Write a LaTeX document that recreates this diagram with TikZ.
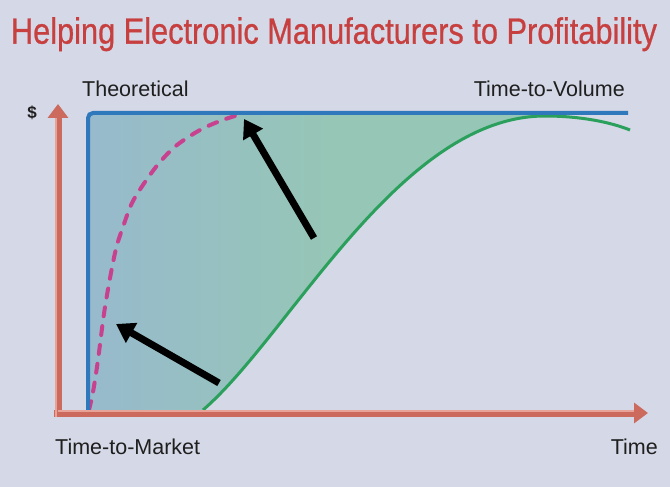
\documentclass[tikz,border=0pt]{standalone}
\usepackage{fontspec}
\setmainfont{Liberation Sans}
\newfontfamily\titlefont[FakeBold=0.8]{Liberation Sans}
\usetikzlibrary{arrows.meta}
\definecolor{bg}{HTML}{D5D8E6}
\definecolor{titlered}{HTML}{C7403F}
\definecolor{axisred}{HTML}{CC6A5E}
\definecolor{axislight}{HTML}{E8A398}
\definecolor{lineblue}{HTML}{2F78BC}
\definecolor{fillblue}{HTML}{97B7D2}
\definecolor{fillteal}{HTML}{96C6B6}
\definecolor{curvegreen}{HTML}{2BA05C}
\definecolor{dashpink}{HTML}{C8418E}
\begin{document}
\begin{tikzpicture}[x=1pt,y=-1pt,
  lbl/.style={font=\fontsize{21.5}{24}\selectfont, text=black!88, inner sep=0pt},
  axisline/.style={line width=7pt, draw=axisred, -{Triangle[width=20pt,length=14pt]}},
  axishi/.style={line width=1.6pt, draw=axislight},
  bigarrow/.style={line width=7pt, draw=black, -{Triangle[width=22pt,length=18pt]}},
]
\useasboundingbox (0,0) rectangle (670,487);
\fill[bg] (0,0) rectangle (670,487);

% title
\node[anchor=north, inner sep=0pt, text=titlered] (title) at (334,17)
  {\resizebox*{646pt}{34pt}{\titlefont Helping Electronic Manufacturers to Profitability}};

% filled region
\begin{scope}
\clip (88,411) -- (88,113) -- (545,113) -- (545,116)
  .. controls (400,116) and (290,335) .. (203,410) -- (203,411) -- cycle;
\fill[fillteal] (80,100) rectangle (560,420);
\shade[left color=fillblue, right color=fillteal] (30,100) rectangle (330,420);
\end{scope}

% dashed theoretical curve
\draw[dashpink, line width=4pt, line cap=round, dash pattern=on 9pt off 10pt]
  plot[smooth, tension=0.55] coordinates
  {(89,410) (93,392) (98,360) (105,307) (115,253) (123,227) (132,203) (145,182)
   (160,162) (177,145) (200,130) (220,121) (238,115)};

% green curve
\coordinate (g0) at (203,410);
\coordinate (g2) at (545,116);
\coordinate (g3) at (630,130);
\draw[curvegreen, line width=3pt] (g0)
  .. controls (290,335) and (400,116) .. (g2)
  .. controls (580,116) and (610,122) .. (g3);

% blue theoretical line
\coordinate (bb) at (88,411);
\coordinate (bc) at (88,113);
\coordinate (be) at (628,113);
\draw[lineblue, line width=4pt, rounded corners=5pt] (bb) -- (bc) -- (be);

% axes
\coordinate (ybase) at (58,417);
\coordinate (ytip) at (58,104);
\coordinate (xbase) at (54,413);
\coordinate (xtip) at (648,413);
\draw[axisline] (ybase) -- (ytip);
\draw[axisline] (xbase) -- (xtip);
\draw[axishi] ([xshift=-2pt]ybase) -- ([xshift=-2pt,yshift=-14pt]ytip);
\draw[axishi] ([yshift=2pt,xshift=4pt]xbase) -- ([yshift=2pt,xshift=-14pt]xtip);

% black arrows
\coordinate (a1tail) at (314,238);
\coordinate (a1tip) at (244,119);
\coordinate (a2tail) at (219,383);
\coordinate (a2tip) at (116,324);
\draw[bigarrow] (a1tail) -- (a1tip);
\draw[bigarrow] (a2tail) -- (a2tip);

% labels
\node[lbl, anchor=base west] (theo) at (82,96) {Theoretical};
\node[lbl, anchor=base east] (ttv) at (625,96) {Time-to-Volume};
\node[lbl, anchor=base west] (ttm) at (55,454) {Time-to-Market};
\node[lbl, anchor=base east] (timelbl) at (658,454) {Time};
\node[font=\fontsize{17}{19}\selectfont\bfseries, text=black!88, inner sep=0pt] (dollar) at (32,113) {\$};
\end{tikzpicture}
\end{document}
